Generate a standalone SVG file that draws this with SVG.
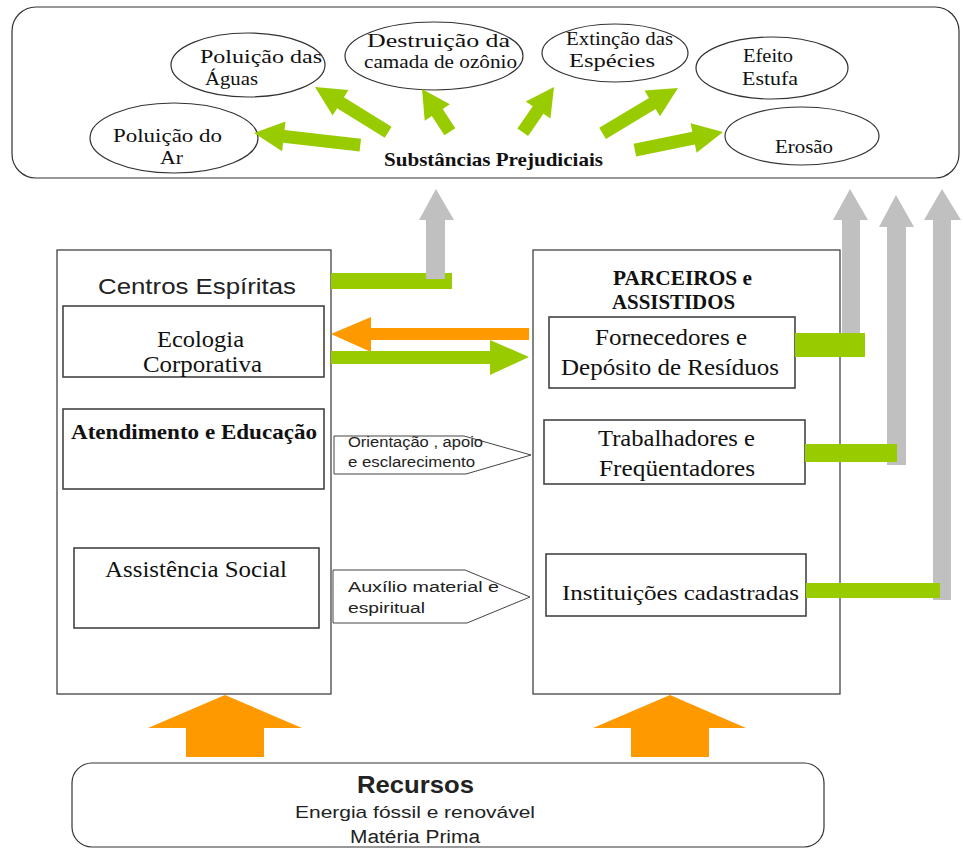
<svg xmlns="http://www.w3.org/2000/svg" width="963" height="848" viewBox="0 0 963 848">
<style>
.frame{fill:#fff;stroke:#333;stroke-width:1.2}
.box{fill:#fff;stroke:#444;stroke-width:1.6}
.ell{fill:#fff;stroke:#333;stroke-width:1.2}
.serif{font-family:"Liberation Serif","Times New Roman",serif;fill:#111}
.sans{font-family:"Liberation Sans",Arial,sans-serif;fill:#222}
.green{fill:#99cc00}
.orange{fill:#ff9900}
.gray{fill:#c0c0c0}
</style>
<rect width="963" height="848" fill="#fff"/>

<g id="impactos">
<rect class="frame" x="12" y="7" width="947" height="171" rx="24"/>
</g>

<g id="n-ar"><ellipse class="ell" cx="174" cy="138" rx="84" ry="35"/>
<text class="serif" x="113" y="142" font-size="19" textLength="109" lengthAdjust="spacingAndGlyphs">Poluição do</text>
<text class="serif" x="160" y="164" font-size="19" textLength="23" lengthAdjust="spacingAndGlyphs">Ar</text></g>
<g id="n-aguas"><ellipse class="ell" cx="248" cy="65" rx="77" ry="32"/>
<text class="serif" x="200" y="63" font-size="19" textLength="122" lengthAdjust="spacingAndGlyphs">Poluição  das</text>
<text class="serif" x="205" y="85" font-size="19" textLength="53" lengthAdjust="spacingAndGlyphs">Águas</text></g>
<g id="n-ozonio"><ellipse class="ell" cx="434" cy="56" rx="89" ry="34"/>
<text class="serif" x="367" y="47" font-size="19" textLength="143" lengthAdjust="spacingAndGlyphs">Destruição da</text>
<text class="serif" x="364" y="68" font-size="19" textLength="153" lengthAdjust="spacingAndGlyphs">camada de ozônio</text></g>
<g id="n-especies"><ellipse class="ell" cx="615" cy="53" rx="73" ry="29"/>
<text class="serif" x="566" y="45" font-size="19" textLength="107" lengthAdjust="spacingAndGlyphs">Extinção das</text>
<text class="serif" x="569" y="67" font-size="19" textLength="86" lengthAdjust="spacingAndGlyphs">Espécies</text></g>
<g id="n-estufa"><ellipse class="ell" cx="772" cy="68" rx="76" ry="31"/>
<text class="serif" x="743" y="62" font-size="19" textLength="50" lengthAdjust="spacingAndGlyphs">Efeito</text>
<text class="serif" x="742" y="85" font-size="19" textLength="56" lengthAdjust="spacingAndGlyphs">Estufa</text></g>
<g id="n-erosao"><ellipse class="ell" cx="802" cy="136" rx="77" ry="29"/>
<text class="serif" x="775" y="153" font-size="19" textLength="58" lengthAdjust="spacingAndGlyphs">Erosão</text></g>
<g id="n-substancias">
<text class="serif" x="384" y="166" font-size="19" font-weight="bold" textLength="219" lengthAdjust="spacingAndGlyphs">Substâncias Prejudiciais</text></g>

<g id="centros">
<rect class="frame" x="57" y="250" width="274" height="444"/>
<text class="sans" x="98" y="294" font-size="22" fill="#111" textLength="198" lengthAdjust="spacingAndGlyphs">Centros Espíritas</text>
</g>
<g id="ecologia"><rect class="box" x="63" y="306" width="261" height="71"/>
<text class="serif" x="157" y="347" font-size="23" textLength="87" lengthAdjust="spacingAndGlyphs">Ecologia</text>
<text class="serif" x="143" y="372" font-size="23" textLength="119" lengthAdjust="spacingAndGlyphs">Corporativa</text></g>
<g id="atendimento"><rect class="box" x="63" y="409" width="261" height="80"/>
<text class="serif" x="71" y="439" font-size="22" font-weight="bold" textLength="246" lengthAdjust="spacingAndGlyphs">Atendimento e Educação</text></g>
<g id="assistencia"><rect class="box" x="74" y="548" width="245" height="80"/>
<text class="serif" x="105" y="577" font-size="23" textLength="182" lengthAdjust="spacingAndGlyphs">Assistência Social</text></g>

<g id="parceiros">
<rect class="frame" x="533" y="250" width="307" height="444"/>
<text class="serif" x="613" y="285" font-size="20" font-weight="bold" textLength="139" lengthAdjust="spacingAndGlyphs">PARCEIROS e</text>
<text class="serif" x="612" y="309" font-size="20" font-weight="bold" textLength="123" lengthAdjust="spacingAndGlyphs">ASSISTIDOS</text>
</g>
<g id="fornecedores"><rect class="box" x="549" y="317" width="246" height="71"/>
<text class="serif" x="595" y="345" font-size="24" textLength="152" lengthAdjust="spacingAndGlyphs">Fornecedores e</text>
<text class="serif" x="561" y="375" font-size="24" textLength="218" lengthAdjust="spacingAndGlyphs">Depósito de Resíduos</text></g>
<g id="trabalhadores"><rect class="box" x="544" y="420" width="261" height="64"/>
<text class="serif" x="598" y="446" font-size="23" textLength="157" lengthAdjust="spacingAndGlyphs">Trabalhadores e</text>
<text class="serif" x="599" y="476" font-size="23" textLength="156" lengthAdjust="spacingAndGlyphs">Freqüentadores</text></g>
<g id="instituicoes"><rect class="box" x="546" y="554" width="260" height="62"/>
<text class="serif" x="562" y="600" font-size="22" textLength="237" lengthAdjust="spacingAndGlyphs">Instituições cadastradas</text></g>

<g id="recursos">
<rect class="frame" x="72" y="763" width="752" height="84" rx="20"/>
<text class="sans" x="357" y="793" font-size="24" font-weight="bold" fill="#111" textLength="117" lengthAdjust="spacingAndGlyphs">Recursos</text>
<text class="sans" x="295" y="818" font-size="17" fill="#333" textLength="240" lengthAdjust="spacingAndGlyphs">Energia fóssil e renovável</text>
<text class="sans" x="350" y="843" font-size="18" fill="#333" textLength="130" lengthAdjust="spacingAndGlyphs">Matéria Prima</text>
</g>

<g id="connectors">
<path class="green" d="M0,0 L-30,-15 L-30,-6.5 L-107,-6.5 L-107,6.5 L-30,6.5 L-30,15 Z" transform="translate(254,133) rotate(186.5)"/>
<path class="green" d="M0,0 L-30,-15 L-30,-6.5 L-86,-6.5 L-86,6.5 L-30,6.5 L-30,15 Z" transform="translate(315,87) rotate(211.7)"/>
<path class="green" d="M0,0 L-28,-15 L-28,-6.5 L-51,-6.5 L-51,6.5 L-28,6.5 L-28,15 Z" transform="translate(422,89) rotate(236.9)"/>
<path class="green" d="M0,0 L-28,-15 L-28,-6.5 L-55,-6.5 L-55,6.5 L-28,6.5 L-28,15 Z" transform="translate(554,87) rotate(-55.4)"/>
<path class="green" d="M0,0 L-30,-15 L-30,-6.5 L-88,-6.5 L-88,6.5 L-30,6.5 L-30,15 Z" transform="translate(678,88) rotate(-31)"/>
<path class="green" d="M0,0 L-30,-15 L-30,-6.5 L-90,-6.5 L-90,6.5 L-30,6.5 L-30,15 Z" transform="translate(723,132) rotate(-11.6)"/>

<rect class="green" x="331" y="273" width="121" height="16"/>
<path class="gray" d="M426,279 L426,220 L419,220 L436,189 L454,220 L445,220 L445,279 Z"/>

<path class="gray" d="M842,345 L842,220 L833,220 L850,189 L868,220 L860,220 L860,345 Z"/>
<path class="gray" d="M887,465 L887,227 L879,227 L896,195 L914,227 L906,227 L906,465 Z"/>
<path class="gray" d="M933,600 L933,220 L924,220 L942,189 L961,220 L951,220 L951,600 Z"/>
<rect class="green" x="795" y="333" width="70" height="24"/>
<rect class="green" x="805" y="444" width="92" height="18"/>
<rect class="green" x="806" y="583" width="134" height="15"/>

<path class="orange" d="M331,334 L371,317 L371,328 L529,328 L529,340 L371,340 L371,352 Z"/>
<path class="green" d="M331,351 L490,351 L490,340 L529,357 L490,375 L490,364 L331,364 Z"/>

<g id="orientacao">
<path d="M334,436 L464,436 L531,455 L466,474 L334,474 Z" fill="#fff" stroke="#444" stroke-width="1"/>
<text class="sans" x="348" y="447" font-size="14" textLength="135" lengthAdjust="spacingAndGlyphs">Orientação , apoio</text>
<text class="sans" x="348" y="467" font-size="14" textLength="127" lengthAdjust="spacingAndGlyphs">e esclarecimento</text>
</g>
<g id="auxilio">
<path d="M333,570 L465,570 L530,597 L467,623 L333,623 Z" fill="#fff" stroke="#444" stroke-width="1"/>
<text class="sans" x="348" y="592" font-size="14" textLength="151" lengthAdjust="spacingAndGlyphs">Auxílio material e</text>
<text class="sans" x="348" y="613" font-size="14" textLength="77" lengthAdjust="spacingAndGlyphs">espiritual</text>
</g>

<path class="orange" d="M186,757 L186,728 L148,728 L225,695 L302,728 L264,728 L264,757 Z"/>
<path class="orange" d="M631,757 L631,728 L593,728 L670,695 L746,728 L709,728 L709,757 Z"/>
</g>
</svg>
